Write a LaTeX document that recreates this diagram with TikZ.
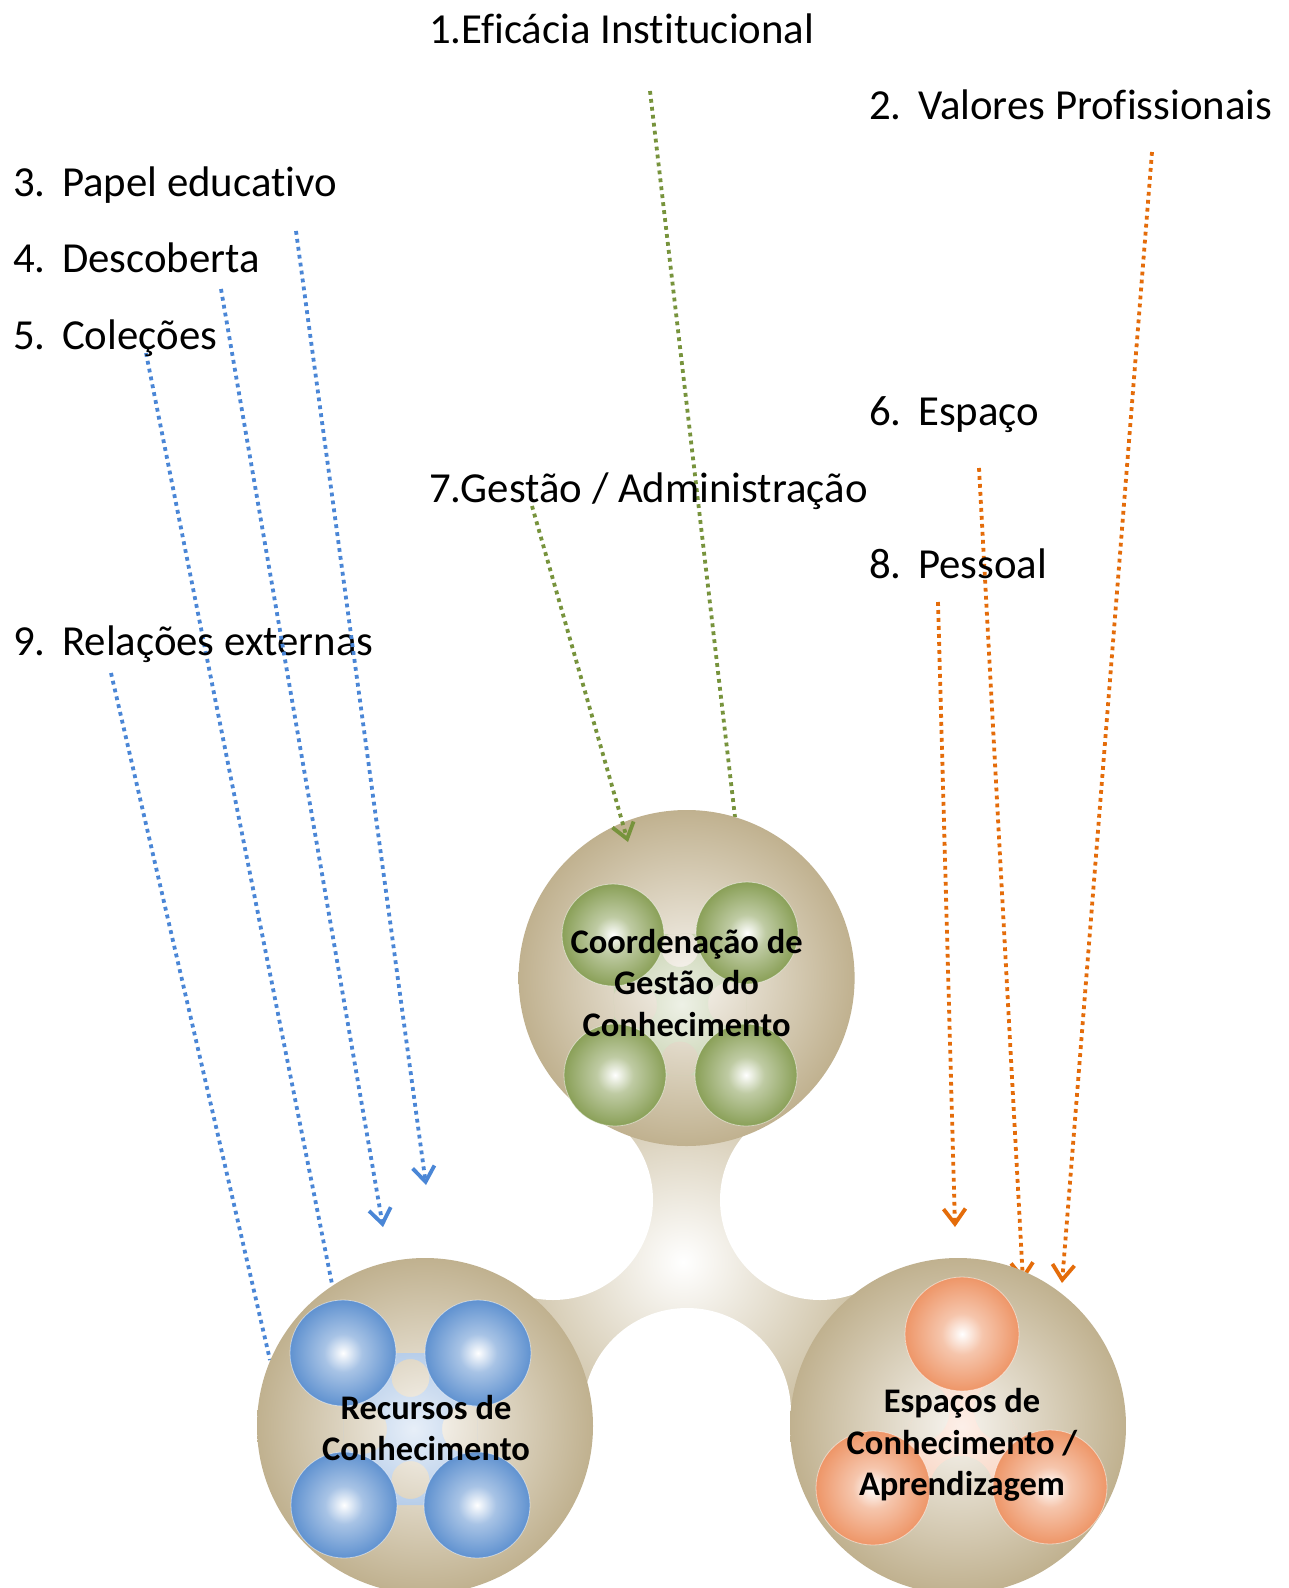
\documentclass[tikz,border=0pt]{standalone}
\usepackage{fontspec}
\setmainfont{Carlito}[Ligatures=NoCommon]
\usetikzlibrary{arrows.meta}

\definecolor{tanrim}{RGB}{192,177,143}
\definecolor{tanin}{RGB}{247,244,239}
\definecolor{hubrim}{RGB}{198,184,151}
\definecolor{grim}{RGB}{138,160,88}
\definecolor{brim}{RGB}{96,146,208}
\definecolor{orim}{RGB}{238,150,104}
\definecolor{garr}{RGB}{119,147,60}
\definecolor{barr}{RGB}{74,134,214}
\definecolor{oarr}{RGB}{228,108,10}
\colorlet{gmid}{white!45!grim}
\colorlet{bmid}{white!45!brim}
\colorlet{omid}{white!45!orim}
\colorlet{gcon}{white!55!grim}
\colorlet{bcon}{white!55!brim}
\colorlet{ocon}{white!55!orim}
\colorlet{gconin}{white!85!grim}
\colorlet{bconin}{white!85!brim}
\colorlet{oconin}{white!85!orim}

\pgfdeclareradialshading{tanball}{\pgfpointorigin}{color(0bp)=(tanin); color(25bp)=(tanrim); color(50bp)=(tanrim)}
\pgfdeclareradialshading{hubshade}{\pgfpointorigin}{color(0bp)=(white); color(25bp)=(hubrim); color(50bp)=(hubrim)}
\pgfdeclareradialshading{greenball}{\pgfpointorigin}{color(0bp)=(white); color(9bp)=(gmid); color(25bp)=(grim); color(50bp)=(grim)}
\pgfdeclareradialshading{blueball}{\pgfpointorigin}{color(0bp)=(white); color(9bp)=(bmid); color(25bp)=(brim); color(50bp)=(brim)}
\pgfdeclareradialshading{orangeball}{\pgfpointorigin}{color(0bp)=(white); color(9bp)=(omid); color(25bp)=(orim); color(50bp)=(orim)}
\pgfdeclareradialshading{gconn}{\pgfpointorigin}{color(0bp)=(gconin); color(25bp)=(gcon); color(50bp)=(gcon)}
\pgfdeclareradialshading{bconn}{\pgfpointorigin}{color(0bp)=(bconin); color(25bp)=(bcon); color(50bp)=(bcon)}
\pgfdeclareradialshading{oconn}{\pgfpointorigin}{color(0bp)=(oconin); color(25bp)=(ocon); color(50bp)=(ocon)}

\tikzset{
  lab/.style={anchor=base west, inner sep=0pt, font=\fontsize{42.8}{50}\selectfont},
  blab/.style={anchor=center, inner sep=0pt, align=center, font=\fontsize{34.5}{41.5}\selectfont\bfseries},
  bigball/.style={circle, minimum size=336pt, inner sep=0pt, shade, shading=tanball},
  ball/.style={draw=white, draw opacity=0.5, line width=0.8pt},
  dotline/.style={line width=3.8pt, dash pattern=on 3.8pt off 4.2pt},
  tip/.style={-{Straight Barb[length=15pt,width=22pt]}},
  garrow/.style={dotline, garr},
  barrow/.style={dotline, barr},
  oarrow/.style={dotline, oarr},
}
\newcommand{\numbox}[1]{\makebox[49pt][l]{#1}}

\begin{document}
\begin{tikzpicture}[x=1pt,y=-1pt]
\useasboundingbox (0,0) rectangle (1289,1588);
\fill[white] (0,0) rectangle (1289,1588);

% central connector (hub)
\begin{scope}
  \clip (686.6,978) -- (425,1426) -- (958,1426) -- cycle;
  \shade[shading=hubshade] (683,1262) circle[radius=205pt];
\end{scope}
\fill[white] (553,1200) circle[radius=100pt] (820,1200) circle[radius=100pt] (687,1412) circle[radius=104pt];

% coordinates for connectors
\coordinate (a1s) at (650,91);   \coordinate (a1e) at (735,817);
\coordinate (a2s) at (1152,152); \coordinate (a2e) at (1062,1283);
\coordinate (a3s) at (296,231);  \coordinate (a3e) at (426,1185);
\coordinate (a4s) at (221,289);  \coordinate (a4e) at (383,1227);
\coordinate (a5s) at (146,353);  \coordinate (a5e) at (332,1284);
\coordinate (a6s) at (979,468);  \coordinate (a6e) at (1023,1281);
\coordinate (a7s) at (532,506);  \coordinate (a7e) at (628,842);
\coordinate (a8s) at (938,602);  \coordinate (a8e) at (955,1227);
\coordinate (a9s) at (111,673);  \coordinate (a9e) at (270,1360);

% connectors partly hidden behind the big circles
\draw[garrow] (a1s) -- (a1e);
\draw[barrow] (a5s) -- (a5e);
\draw[barrow] (a9s) -- (a9e);
\draw[oarrow, tip] (a6s) -- (a6e);

% big circles
\node[bigball] (ctop) at (686.6,978) {};
\node[bigball] (cleft) at (425,1426) {};
\node[bigball] (cright) at (958,1426) {};

% green group
\begin{scope}
  \clip (613,935) -- (747,933) -- (746,1075) -- (615,1075) -- cycle;
  \shade[even odd rule, shading=gconn] (613,935) -- (747,933) -- (746,1075) -- (615,1075) -- cycle
    (680,948.5) circle[radius=18.5pt] (634,1005) circle[radius=23pt]
    (730,1004) circle[radius=22pt] (680,1060) circle[radius=18.5pt];
\end{scope}
\shade[ball, shading=greenball] (613,935) circle[radius=51pt];
\shade[ball, shading=greenball] (747,933) circle[radius=51pt];
\shade[ball, shading=greenball] (615,1075) circle[radius=51pt];
\shade[ball, shading=greenball] (746,1075) circle[radius=51pt];

% blue group
\begin{scope}
  \clip (343,1353) -- (478,1353) -- (477,1505) -- (344,1505) -- cycle;
  \shade[even odd rule, shading=bconn] (343,1353) -- (478,1353) -- (477,1505) -- (344,1505) -- cycle
    (410.5,1378) circle[radius=19pt] (362,1429) circle[radius=25pt]
    (466,1429) circle[radius=24pt] (410.5,1480) circle[radius=19pt];
\end{scope}
\shade[ball, shading=blueball] (343,1353) circle[radius=53pt];
\shade[ball, shading=blueball] (478,1353) circle[radius=53pt];
\shade[ball, shading=blueball] (344,1505) circle[radius=53pt];
\shade[ball, shading=blueball] (477,1505) circle[radius=53pt];

% orange group
\begin{scope}
  \clip (962,1334) -- (873,1488) -- (1050,1487) -- cycle;
  \shade[even odd rule, shading=oconn] (962,1334) -- (873,1488) -- (1050,1487) -- cycle
    (917.5,1411) circle[radius=32pt] (1006,1410.5) circle[radius=32pt]
    (961.5,1487.5) circle[radius=31.5pt];
\end{scope}
\shade[ball, shading=orangeball] (962,1334) circle[radius=57pt];
\shade[ball, shading=orangeball] (873,1488) circle[radius=57pt];
\shade[ball, shading=orangeball] (1050,1487) circle[radius=57pt];

% labels inside circles
\node[blab] (ltop) at (686.6,983) {Coordenação de\\Gestão do\\Conhecimento};
\node[blab] (lleft) at (426,1428) {Recursos de\\Conhecimento};
\node[blab] (lright) at (962,1445) {Espaços de\\Conhecimento /\\Aprendizagem};

% outer labels
\node[lab] (t1) at (429,43) {1.Eficácia Institucional};
\node[lab] (t2) at (869,119.5) {\numbox{2.}Valores Profissionais};
\node[lab] (t3) at (13,196) {\numbox{3.}Papel educativo};
\node[lab] (t4) at (13,272.5) {\numbox{4.}Descoberta};
\node[lab] (t5) at (13,349) {\numbox{5.}Coleções};
\node[lab] (t6) at (869,425.5) {\numbox{6.}Espaço};
\node[lab] (t7) at (429,502) {7.Gestão / Administração};
\node[lab] (t8) at (869,578.5) {\numbox{8.}Pessoal};
\node[lab] (t9) at (13,655) {\numbox{9.}Relações externas};

% connectors on top
\draw[garrow, tip] (a7s) -- (a7e);
\draw[barrow, tip] (a3s) -- (a3e);
\draw[barrow, tip] (a4s) -- (a4e);
\draw[oarrow, tip] (a2s) -- (a2e);
\draw[oarrow, tip] (a8s) -- (a8e);
\end{tikzpicture}
\end{document}
